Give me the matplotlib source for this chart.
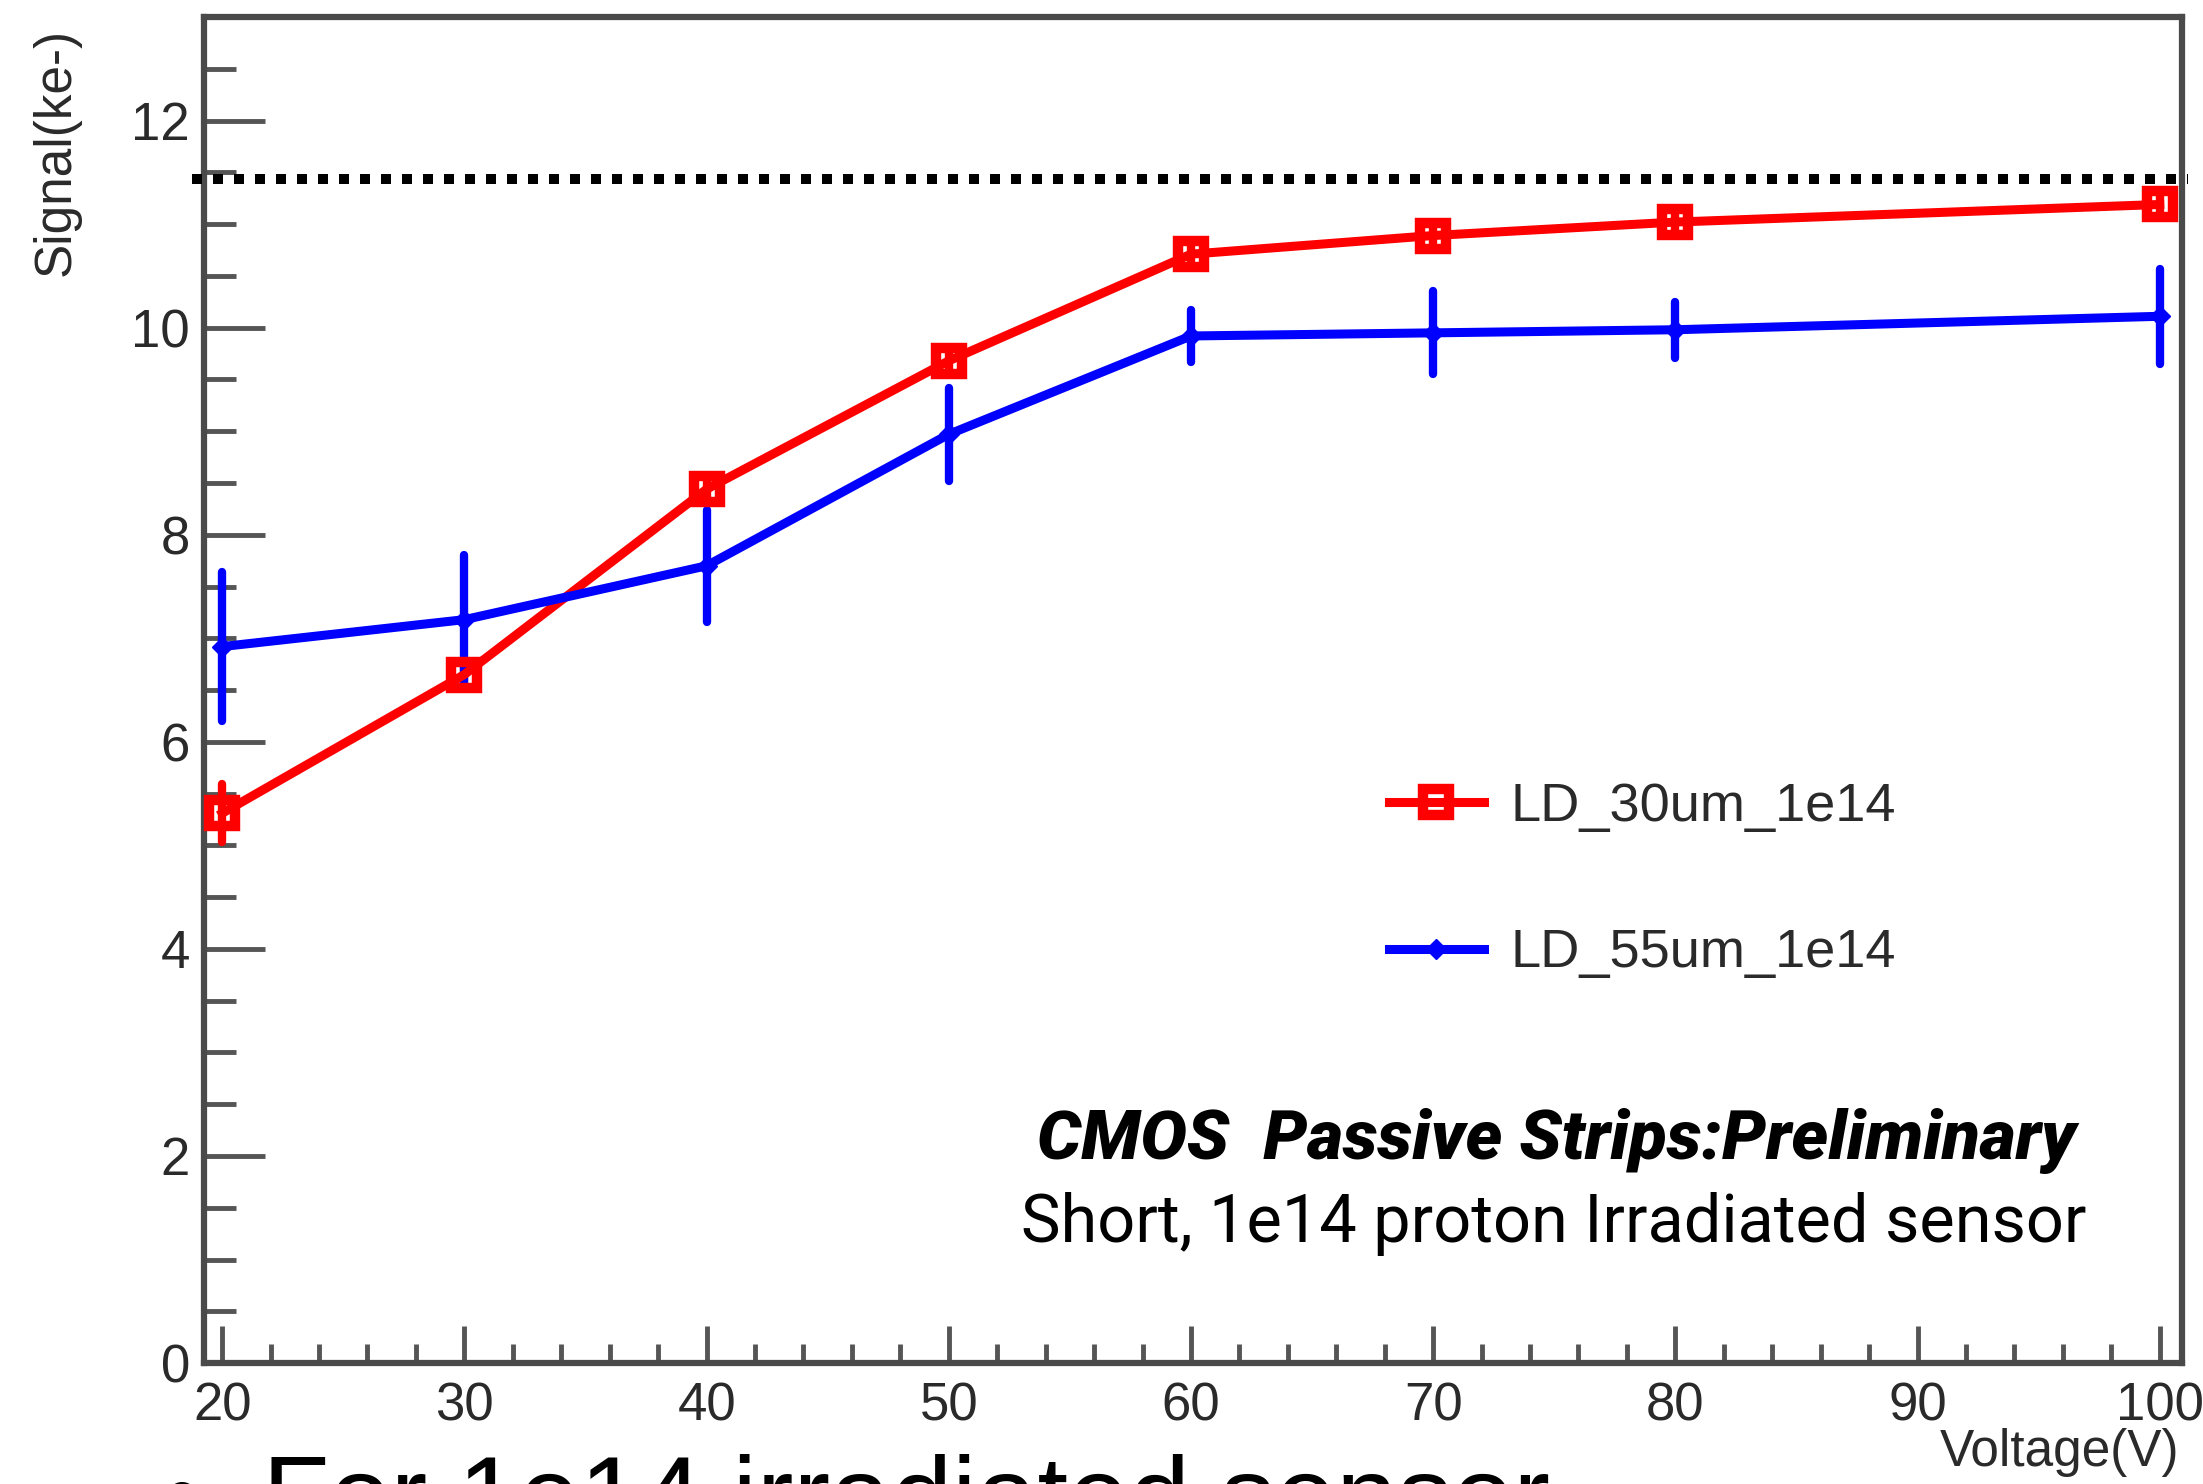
import matplotlib
matplotlib.use("Agg")
import matplotlib.pyplot as plt
from matplotlib.ticker import MultipleLocator

# data
voltage = [20, 30, 40, 50, 60, 70, 80, 100]
signal_30um = [5.31, 6.65, 8.44, 9.68, 10.71, 10.89, 11.02, 11.19]
err_30um = [0.28, 0.1, 0.1, 0.1, 0.12, 0.12, 0.12, 0.12]
signal_55um = [6.92, 7.18, 7.70, 8.97, 9.92, 9.95, 9.98, 10.11]
err_55um = [0.72, 0.62, 0.54, 0.45, 0.25, 0.40, 0.27, 0.46]
ref_level = 11.44
labels = ["LD_30um_1e14", "LD_55um_1e14"]

plt.rcParams["font.family"] = ["Liberation Sans", "DejaVu Sans"]

fig = plt.figure(figsize=(22.03, 14.84), dpi=100)
ax = fig.add_axes([0.0926, 0.0815, 0.898, 0.907])

# error bars first, then lines+markers
eb1 = ax.errorbar(voltage, signal_30um, yerr=err_30um, fmt="none", ecolor="#ff0000",
                  elinewidth=6, capsize=0)
eb2 = ax.errorbar(voltage, signal_55um, yerr=err_55um, fmt="none", ecolor="#0000ff",
                  elinewidth=6, capsize=0)
for eb in (eb1, eb2):
    for lc in eb[2]:
        lc.set_capstyle("round")
        lc.set_clip_on(False)
l1, = ax.plot(voltage, signal_30um, color="#ff0000", lw=6.5, marker="s", ms=19,
              mfc="none", mew=7.5, clip_on=False, zorder=4)
l2, = ax.plot(voltage, signal_55um, color="#0000ff", lw=6.5, marker="D", ms=10,
              clip_on=False, zorder=4)

# dotted reference line, sticks out a little past the frame
ax.plot([-0.006, 1.003], [ref_level, ref_level], transform=ax.get_yaxis_transform(),
        color="black", lw=7.2, linestyle=(0, (1, 1.1)), dash_capstyle="butt",
        clip_on=False, zorder=5)

ax.set_xlim(19.25, 100.93)
ax.set_ylim(0, 13)
ax.xaxis.set_major_locator(MultipleLocator(10))
ax.xaxis.set_minor_locator(MultipleLocator(2))
ax.yaxis.set_major_locator(MultipleLocator(2))
ax.yaxis.set_minor_locator(MultipleLocator(0.5))

for s in ax.spines.values():
    s.set_color("#4a4a4a")
    s.set_linewidth(4.5)
ax.tick_params(axis="y", which="major", direction="in", length=44, width=3.5,
               color="#555555", labelsize=38, labelcolor="#2a2a2a", pad=10)
ax.tick_params(axis="y", which="minor", direction="in", length=23, width=3.5,
               color="#555555")
ax.tick_params(axis="x", which="major", direction="in", length=27, width=3.5,
               color="#555555", labelsize=38, labelcolor="#2a2a2a", pad=13)
ax.tick_params(axis="x", which="minor", direction="in", length=14, width=3.5,
               color="#555555")

fig.text(0.0254, 0.981, "Signal(ke-)", rotation=90, ha="center", va="top",
         fontsize=37, color="#2a2a2a")
fig.text(0.989, 0.021, "Voltage(V)", ha="right", va="center", fontsize=37,
         color="#2a2a2a")

ax.legend([l1, l2], labels, loc="upper left", bbox_to_anchor=(0.6305, 0.473),
          bbox_transform=fig.transFigure, frameon=False, fontsize=39,
          handlelength=1.75, handletextpad=0.5, labelspacing=1.78,
          borderpad=0, borderaxespad=0, labelcolor="#2a2a2a")

fig.text(0.7065, 0.219, "CMOS  Passive Strips:Preliminary", ha="center",
         va="baseline", fontsize=50, fontweight="heavy", style="italic",
         family=["Roboto", "DejaVu Sans"])
fig.text(0.7055, 0.163, "Short, 1e14 proton Irradiated sensor", ha="center",
         va="baseline", fontsize=48, family=["Roboto", "DejaVu Sans"])

# slide text cut off by the bottom edge
fig.text(0.074, -0.033, "\u2022  For 1e14 irradiated sensor", ha="left",
         va="baseline", fontsize=79, color="black")

fig.savefig("out.png", dpi=100)
